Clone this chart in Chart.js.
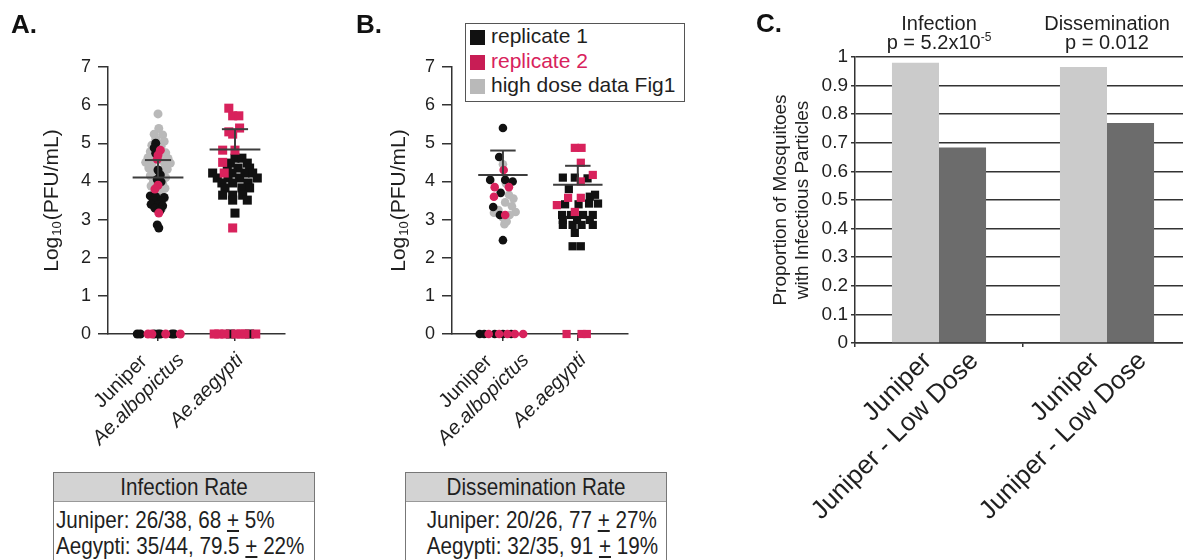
<!DOCTYPE html>
<html>
<head>
<meta charset="utf-8">
<script src="https://cdn.jsdelivr.net/npm/chart.js@4.4.1/dist/chart.umd.min.js"></script>
<style>
  html, body { margin: 0; padding: 0; background: #fff; }
  body { width: 1183px; height: 560px; position: relative; overflow: hidden; font-family: 'Liberation Sans', Arial, sans-serif; color: #1f1f1f; }
  canvas { position: absolute; }
  .panel-letter { position: absolute; font-weight: bold; font-size: 26px; line-height: 26px; color: #111; }
  .legend { position: absolute; left: 465px; top: 23px; width: 220px; height: 79px; box-sizing: border-box; border: 1.5px solid #555; padding: 0 0 0 4px; font-size: 21px; background: #fff; }
  .legend-row { height: 24.5px; line-height: 24.5px; white-space: nowrap; }
  .legend-swatch { display: inline-block; width: 15px; height: 15px; margin-right: 6px; vertical-align: -2px; }
  .rate-table { position: absolute; top: 472px; height: 100px; box-sizing: border-box; border: 1px solid #777; font-size: 24px; }
  .rate-table .head { background: #d3d3d3; height: 28px; line-height: 28px; text-align: center; border-bottom: 1px solid #999; }
  .rate-table .row { height: 26px; line-height: 26px; padding: 0 2px; white-space: nowrap; }
  .rate-table .row.first { margin-top: 5px; }
  .rate-table span { display: inline-block; transform: scaleX(0.86); transform-origin: center; }
  .rate-table.left .row span { transform-origin: left center; }
  .rate-table.centered .row { text-align: center; }
</style>
</head>
<body>
<canvas id="chart-a" width="330" height="470" style="left:0;top:0"></canvas>
<canvas id="chart-b" width="320" height="470" style="left:350px;top:0"></canvas>
<canvas id="chart-c" width="460" height="560" style="left:740px;top:0"></canvas>

<div class="panel-letter" style="left:11px;top:11px">A.</div>
<div class="panel-letter" style="left:356px;top:11px">B.</div>
<div class="panel-letter" style="left:756px;top:10px">C.</div>

<div class="legend">
  <div class="legend-row"><span class="legend-swatch" style="background:#111"></span>replicate 1</div>
  <div class="legend-row" style="color:#d8225c"><span class="legend-swatch" style="background:#c81d55"></span>replicate 2</div>
  <div class="legend-row"><span class="legend-swatch" style="background:#b9b9b9"></span>high dose data Fig1</div>
</div>

<div class="rate-table left" style="left:53px;width:262px">
  <div class="head"><span>Infection Rate</span></div>
  <div class="row first"><span>Juniper: 26/38, 68 <u>+</u> 5%</span></div>
  <div class="row"><span>Aegypti: 35/44, 79.5 <u>+</u> 22%</span></div>
</div>
<div class="rate-table centered" style="left:405px;width:262px">
  <div class="head"><span>Dissemination Rate</span></div>
  <div class="row first"><span>Juniper: 20/26, 77 <u>+</u> 27%</span></div>
  <div class="row"><span>Aegypti: 32/35, 91 <u>+</u> 19%</span></div>
</div>

<script>
(function () {
  var FONT = "'Liberation Sans', Arial, Helvetica, sans-serif";
  var INK = '#1f1f1f';
  var AXIS = '#333333';
  var BLACK = '#111111';
  var PINK = '#d8225c';
  var GREY = '#b9b9b9';

  // panels A and B share the log axis and the column names
  var logTicks = [0, 1, 2, 3, 4, 5, 6, 7];
  var strainNames = ['Juniper', ''];
  var speciesNames = ['Ae.albopictus', 'Ae.aegypti'];

  // A: infection. each point is [offset inside its column, log10 PFU/mL]
  var infAlboRep1 = [[-0.03, 5.0], [-0.05, 4.88], [-0.03, 4.74], [0, 4.3], [0.03, 4.17], [-0.01, 4.05], [0.04, 3.99],
    [-0.1, 3.62], [-0.03, 3.6], [0.08, 3.58], [-0.06, 3.5], [0.04, 3.48], [-0.09, 3.4], [0, 3.38], [0.06, 3.36],
    [-0.04, 3.3], [0.03, 3.25], [-0.01, 2.86], [0.01, 2.78],
    [-0.27, 0], [-0.23, 0], [-0.05, 0], [0, 0], [0.03, 0], [0.18, 0], [0.21, 0]];
  var infAlboRep2 = [[0.03, 4.82], [0, 4.69], [-0.01, 4.58], [0, 3.9], [-0.04, 3.8], [0.01, 3.17],
    [-0.13, 0], [-0.08, 0], [0.1, 0], [0.29, 0]];
  var infAlboHighDose = [[0, 5.77], [0.01, 5.39], [-0.05, 5.24], [0.06, 5.22], [-0.03, 5.1], [0.08, 5.05], [-0.08, 4.95],
    [0.04, 4.92], [-0.1, 4.78], [0.1, 4.75], [-0.13, 4.62], [0.13, 4.6], [-0.04, 4.6], [0.05, 4.55], [-0.16, 4.5],
    [0.16, 4.48], [-0.08, 4.45], [0.09, 4.4], [-0.12, 4.35], [0.12, 4.32], [-0.05, 4.25], [0.05, 4.2], [-0.1, 4.15],
    [0.1, 4.1], [-0.06, 4.0], [0.06, 3.95], [-0.09, 3.88], [0.09, 3.82], [-0.04, 3.75], [0.04, 3.7], [-0.08, 3.6],
    [0.08, 3.55], [0, 3.45], [-0.05, 3.35], [0.05, 3.3]];
  var infAegRep1 = [[0, 4.61], [0.09, 4.61], [-0.06, 4.48], [0.16, 4.48], [-0.1, 4.35], [0.04, 4.35], [0.19, 4.35],
    [-0.29, 4.22], [-0.04, 4.22], [0.13, 4.22], [0.23, 4.22], [-0.23, 4.09], [-0.09, 4.09], [0.06, 4.09], [0.29, 4.09],
    [-0.17, 3.96], [-0.03, 3.96], [0.17, 3.96], [-0.13, 3.83], [0.09, 3.83], [0.19, 3.83], [-0.16, 3.64], [-0.03, 3.64],
    [0.1, 3.64], [-0.03, 3.51], [0.16, 3.51], [0, 3.17],
    [-0.06, 0], [0.19, 0]];
  var infAegRep2 = [[-0.08, 5.92], [-0.03, 5.72], [0.05, 5.72], [0.06, 5.4], [-0.08, 5.3], [-0.03, 5.24], [-0.16, 4.82],
    [0, 4.82], [-0.16, 4.5], [-0.14, 4.22], [-0.03, 2.78],
    [-0.27, 0], [-0.21, 0], [-0.13, 0], [0.01, 0], [0.08, 0], [0.13, 0], [0.27, 0]];
  var infMean = [4.10, 4.84];
  var infSdTop = [4.56, 5.37];

  // B: dissemination
  var disAlboRep1 = [[0, 5.4], [-0.05, 4.64], [-0.17, 4.04], [0.03, 4.04], [0.13, 4.0], [-0.03, 3.7], [-0.13, 3.33],
    [-0.04, 3.12], [0, 2.46],
    [-0.31, 0], [-0.25, 0], [-0.11, 0], [0, 0], [0.11, 0]];
  var disAlboRep2 = [[0.01, 4.3], [-0.11, 3.85], [0.08, 3.85], [-0.12, 3.6], [0.03, 3.12],
    [-0.19, 0], [-0.05, 0], [0.06, 0], [0.16, 0], [0.27, 0]];
  var disAlboHighDose = [[0, 4.45], [0.04, 3.95], [0.08, 3.65], [0.14, 3.55], [0.03, 3.45], [0.12, 3.35], [-0.06, 3.25],
    [0.17, 3.2], [-0.12, 3.18], [0.09, 3.12], [0, 3.05], [0.05, 2.95], [0.02, 2.88]];
  var disAegRep1 = [[-0.2, 4.1], [-0.04, 4.1], [0.13, 4.08], [-0.12, 3.8], [0.16, 3.6], [0.23, 3.65], [-0.17, 3.4],
    [0.01, 3.4], [0.15, 3.42], [0.27, 3.42], [-0.21, 3.12], [-0.09, 3.12], [0.07, 3.12], [0.2, 3.12], [-0.2, 2.99],
    [-0.01, 2.99], [0.16, 2.99], [-0.2, 2.86], [-0.07, 2.86], [0.05, 2.86], [0.2, 2.86], [-0.04, 2.65], [-0.07, 2.3],
    [0.04, 2.3]];
  var disAegRep2 = [[-0.04, 4.88], [0.05, 4.88], [0.04, 4.49], [0.2, 4.17], [0.04, 4.0], [-0.13, 3.57], [0.04, 3.57],
    [-0.28, 3.38], [-0.04, 3.2],
    [-0.15, 0], [0.05, 0], [0.12, 0]];
  var disMean = [4.17, 3.91];
  var disSdTop = [4.81, 4.41];

  // C: proportion infected / disseminated
  var rateGroups = ['Infection', 'Dissemination'];
  var rateP = ['5.2x10', '0.012'];
  var ratePExp = ['-5', ''];
  var barNames = ['Juniper', 'Juniper - Low Dose'];
  var highDoseRate = [0.98, 0.965];
  var lowDoseRate = [0.684, 0.769];
  var propTicks = [0, 0.1, 0.2, 0.3, 0.4, 0.5, 0.6, 0.7, 0.8, 0.9, 1];

  Chart.defaults.font.family = FONT;
  Chart.defaults.color = INK;

  function fixedTicks(values) {
    return function (scale) {
      scale.ticks = values.map(function (v) { return { value: v }; });
    };
  }

  function points(list, col) {
    return list.map(function (p) { return { x: col + p[0], y: p[1] }; });
  }

  function dotSet(list, col, color, shape, radius) {
    return {
      data: points(list, col),
      pointStyle: shape,
      pointRadius: radius,
      pointHoverRadius: radius,
      pointBackgroundColor: color,
      pointBorderColor: color,
      pointBorderWidth: 0,
      showLine: false,
      clip: false
    };
  }

  function segment(x0, x1, y0, y1) {
    return {
      type: 'line',
      data: [{ x: x0, y: y0 }, { x: x1, y: y1 }],
      borderColor: '#3d3d3d',
      borderWidth: 2,
      pointRadius: 0,
      showLine: true,
      fill: false,
      clip: false
    };
  }

  // Log10 title with a real subscript, drawn beside the y axis
  var logTitle = {
    id: 'logTitle',
    afterDraw: function (chart, args, opts) {
      var ctx = chart.ctx;
      var area = chart.chartArea;
      var big = opts.size + 'px ' + FONT;
      var small = Math.round(opts.size * 0.6) + 'px ' + FONT;
      ctx.save();
      ctx.fillStyle = INK;
      ctx.textBaseline = 'middle';
      ctx.textAlign = 'left';
      ctx.font = big;
      var w1 = ctx.measureText('Log').width;
      var w3 = ctx.measureText('(PFU/mL)').width;
      ctx.font = small;
      var w2 = ctx.measureText('10').width + 2;
      ctx.translate(opts.x, (area.top + area.bottom) / 2);
      ctx.rotate(-Math.PI / 2);
      var start = -(w1 + w2 + w3) / 2;
      ctx.font = big;
      ctx.fillText('Log', start, 0);
      ctx.font = small;
      ctx.fillText('10', start + w1 + 1, 5);
      ctx.font = big;
      ctx.fillText('(PFU/mL)', start + w1 + w2, 0);
      ctx.restore();
    }
  };

  // rotated column names: strain upright, species in italics
  var columnLabels = {
    id: 'columnLabels',
    afterDraw: function (chart, args, opts) {
      var ctx = chart.ctx;
      var x = chart.scales.x;
      var base = chart.chartArea.bottom;
      ctx.save();
      ctx.fillStyle = INK;
      ctx.textAlign = 'center';
      ctx.textBaseline = 'middle';
      opts.species.forEach(function (sp, i) {
        var lines = [];
        if (opts.strains[i]) lines.push({ text: opts.strains[i], italic: false });
        lines.push({ text: sp, italic: true });
        ctx.save();
        ctx.translate(x.getPixelForValue(i), base);
        ctx.rotate(-Math.PI / 4);
        lines.forEach(function (line, k) {
          ctx.font = (line.italic ? 'italic ' : '') + opts.size + 'px ' + FONT;
          ctx.fillText(line.text, opts.cx, opts.cy + (k - (lines.length - 1) / 2) * opts.lineHeight);
        });
        ctx.restore();
      });
      ctx.restore();
    }
  };

  function makeDotChart(id, cfg) {
    var datasets = [];
    cfg.mean.forEach(function (m, col) {
      datasets.push(segment(col - 0.33, col + 0.33, m, m));
      datasets.push(segment(col - 0.17, col + 0.17, cfg.sdTop[col], cfg.sdTop[col]));
      datasets.push(segment(col, col, m, cfg.sdTop[col]));
    });
    cfg.columns.forEach(function (c, col) {
      var r = c.shape === 'rect' ? cfg.rectRadius : cfg.circleRadius;
      datasets.push(dotSet(c.rep2, col, PINK, c.shape, r));
    });
    cfg.columns.forEach(function (c, col) {
      var r = c.shape === 'rect' ? cfg.rectRadius : cfg.circleRadius;
      datasets.push(dotSet(c.rep1, col, BLACK, c.shape, r));
    });
    cfg.columns.forEach(function (c, col) {
      if (c.high) datasets.push(dotSet(c.high, col, GREY, c.shape, cfg.circleRadius));
    });

    return new Chart(document.getElementById(id), {
      type: 'scatter',
      data: { datasets: datasets },
      plugins: [logTitle, columnLabels],
      options: {
        responsive: false,
        animation: false,
        events: [],
        layout: { padding: { top: 67, right: cfg.padRight, bottom: 0, left: 0 } },
        plugins: {
          legend: { display: false },
          tooltip: { enabled: false },
          logTitle: { x: cfg.titleX, size: 21 },
          columnLabels: { strains: strainNames, species: speciesNames, size: 20, cx: -60, cy: 20, lineHeight: 25 }
        },
        scales: {
          x: {
            type: 'linear',
            min: cfg.xMin,
            max: cfg.xMax,
            afterBuildTicks: fixedTicks([0, 1]),
            afterFit: function (s) { s.height = 136; },
            ticks: { display: false },
            grid: { drawOnChartArea: false, drawTicks: true, tickLength: 7, color: AXIS, lineWidth: 1.5 },
            border: { color: AXIS, width: 1.5 }
          },
          y: {
            min: 0,
            max: 7,
            afterBuildTicks: fixedTicks(logTicks),
            afterFit: function (s) { s.width = cfg.axisWidth; },
            ticks: { font: { size: 18 }, color: INK, padding: 7 },
            grid: { drawOnChartArea: false, drawTicks: true, tickLength: 10, color: AXIS, lineWidth: 1.5 },
            border: { color: AXIS, width: 1.5 }
          }
        }
      }
    });
  }

  makeDotChart('chart-a', {
    columns: [
      { rep1: infAlboRep1, rep2: infAlboRep2, high: infAlboHighDose, shape: 'circle' },
      { rep1: infAegRep1, rep2: infAegRep2, shape: 'rect' }
    ],
    mean: infMean,
    sdTop: infSdTop,
    circleRadius: 4.5,
    rectRadius: 6.4,
    axisWidth: 108,
    padRight: 45,
    xMin: -0.65,
    xMax: 1.65,
    titleX: 52
  });

  makeDotChart('chart-b', {
    columns: [
      { rep1: disAlboRep1, rep2: disAlboRep2, high: disAlboHighDose, shape: 'circle' },
      { rep1: disAegRep1, rep2: disAegRep2, shape: 'rect' }
    ],
    mean: disMean,
    sdTop: disSdTop,
    circleRadius: 4.3,
    rectRadius: 5.8,
    axisWidth: 102,
    padRight: 42,
    xMin: -0.68,
    xMax: 1.67,
    titleX: 49
  });

  // panel C helpers
  var groupTitles = {
    id: 'groupTitles',
    afterDraw: function (chart, args, opts) {
      var ctx = chart.ctx;
      var x = chart.scales.x;
      ctx.save();
      ctx.fillStyle = INK;
      ctx.textBaseline = 'alphabetic';
      opts.names.forEach(function (name, i) {
        var cx = x.getPixelForValue(i);
        var big = opts.size + 'px ' + FONT;
        var small = opts.supSize + 'px ' + FONT;
        ctx.font = big;
        ctx.textAlign = 'center';
        ctx.fillText(name, cx, opts.y1);
        var base = 'p = ' + opts.p[i];
        var w1 = ctx.measureText(base).width;
        ctx.font = small;
        var w2 = opts.exp[i] ? ctx.measureText(opts.exp[i]).width : 0;
        var left = cx - (w1 + w2) / 2;
        ctx.textAlign = 'left';
        ctx.font = big;
        ctx.fillText(base, left, opts.y2);
        if (opts.exp[i]) {
          ctx.font = small;
          ctx.fillText(opts.exp[i], left + w1, opts.y2 - 8);
        }
      });
      ctx.restore();
    }
  };

  var barLabels = {
    id: 'barLabels',
    afterDraw: function (chart, args, opts) {
      var ctx = chart.ctx;
      var base = chart.chartArea.bottom;
      ctx.save();
      ctx.fillStyle = INK;
      ctx.font = opts.size + 'px ' + FONT;
      ctx.textAlign = 'right';
      ctx.textBaseline = 'middle';
      chart.data.datasets.forEach(function (ds, di) {
        chart.getDatasetMeta(di).data.forEach(function (bar) {
          ctx.save();
          ctx.translate(bar.x + opts.dx, base + opts.dy);
          ctx.rotate(-Math.PI / 4);
          ctx.fillText(opts.names[di], 0, 0);
          ctx.restore();
        });
      });
      ctx.restore();
    }
  };

  new Chart(document.getElementById('chart-c'), {
    type: 'bar',
    data: {
      labels: rateGroups,
      datasets: [
        { data: highDoseRate, backgroundColor: '#cbcbcb', borderWidth: 0 },
        { data: lowDoseRate, backgroundColor: '#6c6c6c', borderWidth: 0 }
      ]
    },
    plugins: [groupTitles, barLabels],
    options: {
      responsive: false,
      animation: false,
      events: [],
      categoryPercentage: 0.56,
      barPercentage: 1,
      layout: { padding: { top: 57, right: 9, bottom: 0, left: 0 } },
      plugins: {
        legend: { display: false },
        tooltip: { enabled: false },
        groupTitles: { names: rateGroups, p: rateP, exp: ratePExp, size: 20, supSize: 12, y1: 30, y2: 49 },
        barLabels: { names: barNames, size: 26, dx: 12, dy: 14 }
      },
      scales: {
        x: {
          afterFit: function (s) { s.height = 217; },
          ticks: { display: false },
          grid: { drawOnChartArea: false, drawTicks: true, tickLength: 4, color: AXIS, lineWidth: 1.5 },
          border: { color: AXIS, width: 1.5 }
        },
        y: {
          min: 0,
          max: 1,
          afterBuildTicks: fixedTicks(propTicks),
          afterFit: function (s) { s.width = 115; },
          ticks: {
            font: { size: 19 },
            color: INK,
            padding: 3,
            callback: function (value) { return String(Math.round(value * 10) / 10); }
          },
          grid: { color: AXIS, lineWidth: 1.5, tickLength: 4 },
          border: { color: AXIS, width: 1.5 },
          title: {
            display: true,
            text: ['Proportion of Mosquitoes', 'with Infectious Particles'],
            font: { size: 19 },
            color: INK,
            padding: { top: 29, bottom: 0 }
          }
        }
      }
    }
  });
})();
</script>
</body>
</html>
